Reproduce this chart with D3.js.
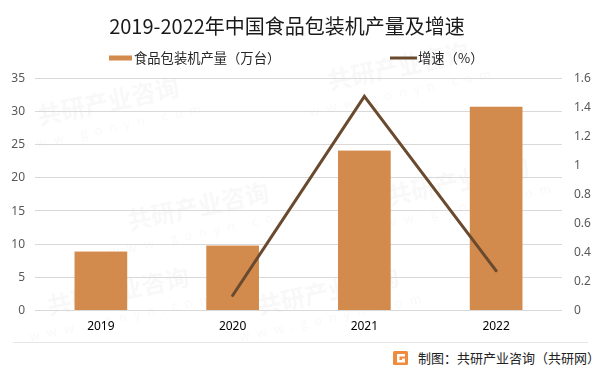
<!DOCTYPE html>
<html>
<head>
<meta charset="utf-8">
<script src="https://cdn.jsdelivr.net/npm/d3@7"></script>
<style>
  body { margin: 0; background: #fff; }
  svg text { font-family: "Noto Sans CJK SC", "Noto Sans", sans-serif; }
</style>
</head>
<body>
<div id="chart"></div>
<script>
// chart data
const years = ["2019", "2020", "2021", "2022"];
const output = [8.8, 9.7, 24.0, 30.6];          // 食品包装机产量（万台）
const growth = [null, 0.10, 1.47, 0.27];        // 增速（%）
const leftTicks = [0, 5, 10, 15, 20, 25, 30, 35];
const rightTicks = [0, 0.2, 0.4, 0.6, 0.8, 1, 1.2, 1.4, 1.6];

const W = 600, H = 374;
const plot = {left: 35, right: 562, top: 77.5, bottom: 310};

const svg = d3.select("#chart").append("svg")
    .attr("width", W)
    .attr("height", H);

svg.append("rect").attr("width", W).attr("height", H).attr("fill", "#fff");

// faint watermark
const wm = svg.append("g").attr("fill", "#000").attr("opacity", 0.03)
    .attr("font-weight", "bold");
[[110, 110], [400, 75], [200, 215], [460, 190], [120, 300], [330, 300]]
    .forEach(([x, y]) => {
        const g = wm.append("g").attr("transform", `translate(${x},${y}) rotate(-12)`);
        g.append("text").attr("text-anchor", "middle").attr("font-size", 24).text("共研产业咨询");
        g.append("text").attr("text-anchor", "middle").attr("y", 22).attr("font-size", 13)
            .attr("font-weight", "normal").attr("letter-spacing", 7).text("www.gonyn.com");
    });

// scales
const x = d3.scaleBand().domain(years).range([plot.left, plot.right]);
const yL = d3.scaleLinear().domain([0, 35]).range([plot.bottom, plot.top]);
const yR = d3.scaleLinear().domain([0, 1.6]).range([plot.bottom, plot.top]);

// gridlines
svg.append("g")
    .selectAll("line")
    .data(leftTicks)
    .join("line")
    .attr("x1", plot.left).attr("x2", plot.right)
    .attr("y1", d => Math.round(yL(d)) + 0.5).attr("y2", d => Math.round(yL(d)) + 0.5)
    .attr("stroke", "#d9d9d9").attr("stroke-width", 1);

// left axis
const leftAxis = svg.append("g")
    .attr("transform", `translate(${plot.left - 10},0)`)
    .call(d3.axisLeft(yL).tickValues(leftTicks).tickSize(0).tickPadding(0));
leftAxis.select(".domain").remove();
leftAxis.selectAll("text").attr("fill", "#595959").attr("font-size", 12)
    .style("font-family", "'Noto Sans', sans-serif");

// right axis
const rightAxis = svg.append("g")
    .attr("transform", `translate(${plot.right + 12},0)`)
    .call(d3.axisRight(yR).tickValues(rightTicks).tickSize(0).tickPadding(0).tickFormat(d3.format("~g")));
rightAxis.select(".domain").remove();
rightAxis.selectAll("text").attr("fill", "#595959").attr("font-size", 12)
    .style("font-family", "'Noto Sans', sans-serif");

// x axis labels
const xAxis = svg.append("g")
    .attr("transform", `translate(0,${plot.bottom + 11})`)
    .call(d3.axisBottom(x).tickSize(0).tickPadding(0));
xAxis.select(".domain").remove();
xAxis.selectAll("text").attr("fill", "#000").attr("font-size", 12)
    .style("font-family", "'Noto Sans', sans-serif");

// bars
const barW = x.bandwidth() * 0.4;
svg.append("g")
    .selectAll("rect")
    .data(years)
    .join("rect")
    .attr("x", (d) => x(d) + x.bandwidth() / 2 - barW / 2)
    .attr("y", (d, i) => yL(output[i]))
    .attr("width", barW)
    .attr("height", (d, i) => plot.bottom - yL(output[i]))
    .attr("fill", "#d38b4d");

// growth line
const lineData = years.map((d, i) => ({year: d, v: growth[i]})).filter(d => d.v !== null);
svg.append("path")
    .datum(lineData)
    .attr("fill", "none")
    .attr("stroke", "#6a4a2e")
    .attr("stroke-width", 3)
    .attr("stroke-linecap", "round")
    .attr("d", d3.line().x(d => x(d.year) + x.bandwidth() / 2).y(d => yR(d.v)));

// title
svg.append("text")
    .attr("x", 287).attr("y", 34)
    .attr("text-anchor", "middle")
    .attr("font-size", 20)
    .attr("fill", "#1a1a1a")
    .text("2019-2022年中国食品包装机产量及增速");

// legend
svg.append("rect").attr("x", 109).attr("y", 55.5).attr("width", 23).attr("height", 5).attr("fill", "#d38b4d");
svg.append("text").attr("x", 134).attr("y", 63).attr("font-size", 13.3).attr("fill", "#262626")
    .text("食品包装机产量（万台）");
svg.append("line").attr("x1", 390).attr("x2", 417).attr("y1", 58).attr("y2", 58)
    .attr("stroke", "#6a4a2e").attr("stroke-width", 3);
svg.append("text").attr("x", 418).attr("y", 63).attr("font-size", 13.3).attr("fill", "#262626")
    .text("增速（%）");

// footer
svg.append("line").attr("x1", 13).attr("x2", 588).attr("y1", 342.5).attr("y2", 342.5)
    .attr("stroke", "#e6e6e6");
const logo = svg.append("g").attr("transform", "translate(393,351)");
logo.append("rect").attr("width", 15).attr("height", 14).attr("rx", 1.5).attr("fill", "#f08a3c");
logo.append("path").attr("d", "M4,3 H12 V5.5 H6.5 V9 H9 V7.5 H12 V11.5 H4 Z").attr("fill", "#fff");
svg.append("text").attr("x", 418).attr("y", 363).attr("font-size", 13).attr("fill", "#222")
    .text("制图：共研产业咨询（共研网）");
</script>
</body>
</html>
